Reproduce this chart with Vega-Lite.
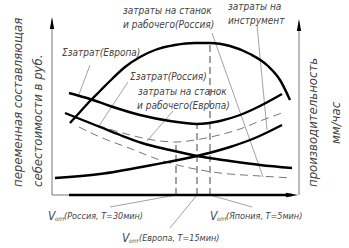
{
 "$schema": "https://vega.github.io/schema/vega-lite/v6.json",
 "width": 349, "height": 248, "padding": 0, "autosize": {"type": "none"},
 "background": "white",
 "config": {"view": {"stroke": null}},
 "datasets": {
  "solid": [
   {"c":"arch","u":18,"v":72},{"c":"arch","u":28,"v":83},{"c":"arch","u":38,"v":94},{"c":"arch","u":48,"v":104},{"c":"arch","u":60,"v":116},{"c":"arch","u":73,"v":128},{"c":"arch","u":88,"v":138},{"c":"arch","u":103,"v":145},{"c":"arch","u":123,"v":150},{"c":"arch","u":143,"v":152},{"c":"arch","u":158,"v":152},{"c":"arch","u":178,"v":149},{"c":"arch","u":198,"v":141},{"c":"arch","u":216,"v":129},{"c":"arch","u":228,"v":115},{"c":"arch","u":238,"v":95},
   {"c":"sumEur","u":17,"v":102},{"c":"sumEur","u":38,"v":96},{"c":"sumEur","u":58,"v":89},{"c":"sumEur","u":88,"v":80},{"c":"sumEur","u":118,"v":74},{"c":"sumEur","u":145,"v":71},{"c":"sumEur","u":168,"v":74},{"c":"sumEur","u":188,"v":80},{"c":"sumEur","u":208,"v":89},{"c":"sumEur","u":230,"v":101},
   {"c":"machEur","u":13,"v":82},{"c":"machEur","u":28,"v":76},{"c":"machEur","u":48,"v":68},{"c":"machEur","u":68,"v":60},{"c":"machEur","u":90,"v":52},{"c":"machEur","u":118,"v":45},{"c":"machEur","u":145,"v":39},{"c":"machEur","u":178,"v":34},{"c":"machEur","u":208,"v":30},{"c":"machEur","u":240,"v":27},
   {"c":"tool","u":3,"v":17},{"c":"tool","u":48,"v":21},{"c":"tool","u":100,"v":30},{"c":"tool","u":145,"v":39},{"c":"tool","u":178,"v":48},{"c":"tool","u":203,"v":57},{"c":"tool","u":230,"v":70}
  ],
  "dashed": [
   {"c":"machRus","u":27,"v":68},{"c":"machRus","u":48,"v":58},{"c":"machRus","u":77,"v":47},{"c":"machRus","u":108,"v":35},{"c":"machRus","u":138,"v":27},{"c":"machRus","u":168,"v":22},{"c":"machRus","u":208,"v":19},{"c":"machRus","u":240,"v":17},
   {"c":"sumRus","u":21,"v":79},{"c":"sumRus","u":48,"v":69},{"c":"sumRus","u":78,"v":60},{"c":"sumRus","u":108,"v":54},{"c":"sumRus","u":124,"v":53},{"c":"sumRus","u":143,"v":55},{"c":"sumRus","u":163,"v":59},{"c":"sumRus","u":188,"v":66},{"c":"sumRus","u":208,"v":74},{"c":"sumRus","u":230,"v":82}
  ],
  "leaders": [
   {"u":38,"v":130,"u2":26,"v2":98},
   {"u":76,"v":113,"u2":47,"v2":69},
   {"u":121,"v":84,"u2":95,"v2":54},
   {"u":160,"v":162,"u2":211,"v2":18},
   {"u":205,"v":170,"u2":215,"v2":65},
   {"u":58,"v":-12,"u2":124,"v2":0},
   {"u":118,"v":-33,"u2":145,"v2":0},
   {"u":200,"v":-12,"u2":158,"v2":0}
  ],
  "vlines": [
   {"u":124,"v":0,"v2":50},{"u":145,"v":0,"v2":71},{"u":158,"v":0,"v2":152}
  ],
  "thinAxes": [
   {"u":0,"v":0,"u2":0,"v2":175},
   {"u":247,"v":0,"u2":247,"v2":173},
   {"u":0,"v":0,"u2":17,"v2":0}
  ],
  "thickAxis": [{"u":17,"v":0,"u2":240,"v2":0}],
  "upArrows": [{"u":0,"v":172},{"u":247,"v":170}],
  "rightArrow": [{"u":240,"v":0}],
  "labels": [
   {"t":"затраты на станок","u":71,"v":184},
   {"t":"и рабочего(Россия)","u":71,"v":170},
   {"t":"затраты на","u":176,"v":188},
   {"t":"инструмент","u":176,"v":174},
   {"t":"Σзатрат(Европа)","u":10,"v":142},
   {"t":"Σзатрат(Россия)","u":78,"v":118},
   {"t":"затраты на станок","u":86,"v":103},
   {"t":"и рабочего(Европа)","u":85,"v":89}
  ],
  "titles": [
   {"t":"переменная составляющая","u":-34,"v":8},
   {"t":"себестоимости в руб.","u":-14,"v":8},
   {"t":"производительность","u":261,"v":8},
   {"t":"мм/час","u":284,"v":51}
  ],
  "vs": [{"u":-4,"v":-21},{"u":70,"v":-43},{"u":158,"v":-21}],
  "subs": [{"u":3,"v":-24},{"u":77,"v":-46},{"u":165,"v":-24}],
  "vtexts": [
   {"t":"(Россия, T=30мин)","u":12,"v":-21},
   {"t":"(Европа, T=15мин)","u":87,"v":-43},
   {"t":"(Япония, T=5мин)","u":174,"v":-21}
  ]
 },
 "layer": [
  {"data":{"name":"leaders"},"mark":{"type":"rule","color":"#8a8a8a","strokeWidth":0.8},
   "encoding":{"x":{"field":"u","type":"quantitative","scale":{"domain":[-52,297],"nice":false,"zero":false},"axis":null},"y":{"field":"v","type":"quantitative","scale":{"domain":[-53,195],"nice":false,"zero":false},"axis":null},"x2":{"field":"u2"},"y2":{"field":"v2"}}},
  {"data":{"name":"vlines"},"mark":{"type":"rule","color":"#444","strokeWidth":1,"strokeDash":[7,4]},
   "encoding":{"x":{"field":"u","type":"quantitative","scale":{"domain":[-52,297],"nice":false,"zero":false},"axis":null},"y":{"field":"v","type":"quantitative","scale":{"domain":[-53,195],"nice":false,"zero":false},"axis":null},"y2":{"field":"v2"}}},
  {"data":{"name":"thinAxes"},"mark":{"type":"rule","color":"#777","strokeWidth":1},
   "encoding":{"x":{"field":"u","type":"quantitative","scale":{"domain":[-52,297],"nice":false,"zero":false},"axis":null},"y":{"field":"v","type":"quantitative","scale":{"domain":[-53,195],"nice":false,"zero":false},"axis":null},"x2":{"field":"u2"},"y2":{"field":"v2"}}},
  {"data":{"name":"thickAxis"},"mark":{"type":"rule","color":"#000","strokeWidth":2.5},
   "encoding":{"x":{"field":"u","type":"quantitative","scale":{"domain":[-52,297],"nice":false,"zero":false},"axis":null},"y":{"field":"v","type":"quantitative","scale":{"domain":[-53,195],"nice":false,"zero":false},"axis":null},"x2":{"field":"u2"},"y2":{"field":"v2"}}},
  {"data":{"name":"upArrows"},"mark":{"type":"point","shape":"M0,-1L0.35,1L-0.35,1Z","filled":true,"color":"#000","size":150,"opacity":1},
   "encoding":{"x":{"field":"u","type":"quantitative","scale":{"domain":[-52,297],"nice":false,"zero":false},"axis":null},"y":{"field":"v","type":"quantitative","scale":{"domain":[-53,195],"nice":false,"zero":false},"axis":null}}},
  {"data":{"name":"rightArrow"},"mark":{"type":"point","shape":"M1,0L-1,0.35L-1,-0.35Z","filled":true,"color":"#000","size":150,"opacity":1},
   "encoding":{"x":{"field":"u","type":"quantitative","scale":{"domain":[-52,297],"nice":false,"zero":false},"axis":null},"y":{"field":"v","type":"quantitative","scale":{"domain":[-53,195],"nice":false,"zero":false},"axis":null}}},
  {"data":{"name":"dashed"},"mark":{"type":"line","color":"#777","strokeWidth":1,"strokeDash":[8,5],"interpolate":"monotone"},
   "encoding":{"x":{"field":"u","type":"quantitative","scale":{"domain":[-52,297],"nice":false,"zero":false},"axis":null},"y":{"field":"v","type":"quantitative","scale":{"domain":[-53,195],"nice":false,"zero":false},"axis":null},"detail":{"field":"c"}}},
  {"data":{"name":"solid"},"mark":{"type":"line","color":"#000","strokeWidth":2.4,"interpolate":"monotone"},
   "encoding":{"x":{"field":"u","type":"quantitative","scale":{"domain":[-52,297],"nice":false,"zero":false},"axis":null},"y":{"field":"v","type":"quantitative","scale":{"domain":[-53,195],"nice":false,"zero":false},"axis":null},"detail":{"field":"c"}}},
  {"data":{"name":"labels"},"mark":{"type":"text","font":"DejaVu Sans Condensed, Liberation Sans Narrow, DejaVu Sans","fontStyle":"italic","color":"#444","fontSize":10,"align":"left","baseline":"middle"},
   "encoding":{"x":{"field":"u","type":"quantitative","scale":{"domain":[-52,297],"nice":false,"zero":false},"axis":null},"y":{"field":"v","type":"quantitative","scale":{"domain":[-53,195],"nice":false,"zero":false},"axis":null},"text":{"field":"t"}}},
  {"data":{"name":"titles"},"mark":{"type":"text","font":"DejaVu Sans Condensed, Liberation Sans Narrow, DejaVu Sans","fontStyle":"italic","color":"#444","fontSize":13,"align":"left","baseline":"middle","angle":270},
   "encoding":{"x":{"field":"u","type":"quantitative","scale":{"domain":[-52,297],"nice":false,"zero":false},"axis":null},"y":{"field":"v","type":"quantitative","scale":{"domain":[-53,195],"nice":false,"zero":false},"axis":null},"text":{"field":"t"}}},
  {"data":{"name":"vs"},"mark":{"type":"text","font":"DejaVu Sans Condensed, Liberation Sans Narrow, DejaVu Sans","fontStyle":"italic","color":"#444","fontSize":12,"align":"left","baseline":"middle","text":"V"},
   "encoding":{"x":{"field":"u","type":"quantitative","scale":{"domain":[-52,297],"nice":false,"zero":false},"axis":null},"y":{"field":"v","type":"quantitative","scale":{"domain":[-53,195],"nice":false,"zero":false},"axis":null}}},
  {"data":{"name":"subs"},"mark":{"type":"text","font":"DejaVu Sans Condensed, Liberation Sans Narrow, DejaVu Sans","fontStyle":"italic","color":"#444","fontSize":6,"align":"left","baseline":"middle","text":"опт"},
   "encoding":{"x":{"field":"u","type":"quantitative","scale":{"domain":[-52,297],"nice":false,"zero":false},"axis":null},"y":{"field":"v","type":"quantitative","scale":{"domain":[-53,195],"nice":false,"zero":false},"axis":null}}},
  {"data":{"name":"vtexts"},"mark":{"type":"text","font":"DejaVu Sans Condensed, Liberation Sans Narrow, DejaVu Sans","fontStyle":"italic","color":"#444","fontSize":9,"align":"left","baseline":"middle"},
   "encoding":{"x":{"field":"u","type":"quantitative","scale":{"domain":[-52,297],"nice":false,"zero":false},"axis":null},"y":{"field":"v","type":"quantitative","scale":{"domain":[-53,195],"nice":false,"zero":false},"axis":null},"text":{"field":"t"}}}
 ]
}
